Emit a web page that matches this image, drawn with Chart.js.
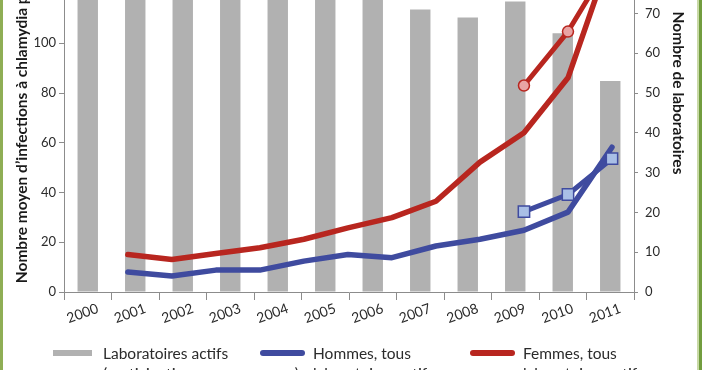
<!DOCTYPE html>
<html lang="fr">
<head>
<meta charset="utf-8">
<script src="https://cdn.jsdelivr.net/npm/chart.js@4.4.1/dist/chart.umd.min.js"></script>
<style>
  html, body { margin: 0; padding: 0; background: #fff; }
  #page { position: relative; width: 702px; height: 370px; overflow: hidden; background: #fff;
          font-family: Lato, "Open Sans", sans-serif; color: #2b2b2b; }
  #chart { position: absolute; left: 0; top: -130px; }
  .edge { position: absolute; top: 0; height: 370px; }
  .legend { position: absolute; top: 343px; font-size: 15.5px; line-height: 20px; white-space: nowrap; }
  .swatch { position: absolute; top: 350px; height: 6px; }
</style>
</head>
<body>
<div id="page">
  <canvas id="chart" width="702" height="482"></canvas>

  <!-- legend (cut by the bottom of the picture, like the original) -->
  <div class="swatch" style="left:53px;width:39px;background:#b1b1b1;"></div>
  <div class="legend" style="left:103px;">Laboratoires actifs<br>(participation au programme)</div>
  <div class="swatch" style="left:260px;width:45px;background:#3f4b9f;border-radius:3px;"></div>
  <div class="legend" style="left:313px;">Hommes, tous<br>laboratoires actifs</div>
  <div class="swatch" style="left:470px;width:45px;background:#b8261f;border-radius:3px;"></div>
  <div class="legend" style="left:523px;">Femmes, tous<br>laboratoires actifs</div>

  <div class="edge" style="left:0;width:3px;background:#8fae55;"></div>
  <div class="edge" style="left:697px;width:2px;background:#c8d9a6;"></div>
  <div class="edge" style="left:699px;width:3px;background:#729d3f;"></div>
</div>

<script>
/** Données **/
const years = ['2000', '2001', '2002', '2003', '2004', '2005',
               '2006', '2007', '2008', '2009', '2010', '2011'];
// nombre de laboratoires actifs (axe de droite)
const labsActifs = [84, 83, 82, 80, 79, 78, 76, 71, 69, 73, 65, 53];
// nombre moyen d'infections, tous laboratoires actifs (axe de gauche)
const hommesTous = [8.0, 6.4, 8.8, 8.8, 12.4, 15.1, 13.8, 18.5, 21.2, 24.8, 32.1, 58.2];
const femmesTous = [15.1, 13.1, 15.5, 17.8, 21.2, 25.8, 29.9, 36.5, 52.2, 64.0, 86.1, 137];
// laboratoires participant depuis 2009
const anneesPart = ['2009', '2010', '2011'];
const hommesPart = [32.3, 39.2, 53.6];
const femmesPart = [83.0, 104.7, 134];
// axes
const leftMax = 160, leftStep = 20;
const rightMax = 100, rightStep = 10;

const BLUE = '#3f4b9f', RED = '#b8261f', GREY = '#b1b1b1', AXIS = '#8c8c8c', TEXT = '#2b2b2b';

function pts(xs, ys) {
  return ys.map(function(v, i) { return { x: Number(xs[i]), y: v }; });
}

Chart.defaults.font.family = 'Lato, "Open Sans", sans-serif';
Chart.defaults.color = TEXT;

const ctx = document.getElementById('chart').getContext('2d');
const chart = new Chart(ctx, {
  type: 'bar',
  data: {
    labels: years,
    datasets: [
      { type: 'line', label: 'Femmes, participants', data: pts(anneesPart, femmesPart),
        xAxisID: 'xl', yAxisID: 'y', borderColor: RED, borderWidth: 5,
        borderJoinStyle: 'round', borderCapStyle: 'round',
        pointStyle: 'circle', pointRadius: 5.5, pointBorderWidth: 1.5,
        pointBackgroundColor: '#e9a3a3', pointBorderColor: RED, order: 1 },
      { type: 'line', label: 'Hommes, participants', data: pts(anneesPart, hommesPart),
        xAxisID: 'xl', yAxisID: 'y', borderColor: BLUE, borderWidth: 5,
        borderJoinStyle: 'round', borderCapStyle: 'round',
        pointStyle: 'rect', pointRadius: 8, pointBorderWidth: 1.5,
        pointBackgroundColor: '#a9bfe6', pointBorderColor: BLUE, order: 1 },
      { type: 'line', label: 'Femmes, tous laboratoires actifs', data: pts(years, femmesTous),
        xAxisID: 'xl', yAxisID: 'y', borderColor: RED, borderWidth: 5.5,
        borderJoinStyle: 'round', borderCapStyle: 'round', pointRadius: 0, order: 2 },
      { type: 'line', label: 'Hommes, tous laboratoires actifs', data: pts(years, hommesTous),
        xAxisID: 'xl', yAxisID: 'y', borderColor: BLUE, borderWidth: 5.5,
        borderJoinStyle: 'round', borderCapStyle: 'round', pointRadius: 0, order: 2 },
      { type: 'bar', label: 'Laboratoires actifs', data: labsActifs,
        xAxisID: 'x', yAxisID: 'y2', backgroundColor: GREY, grouped: false,
        categoryPercentage: 1, barPercentage: 0.43, order: 10 }
    ]
  },
  options: {
    responsive: false,
    animation: false,
    layout: { padding: { top: 24, left: 0, right: 0, bottom: 0 } },
    plugins: { legend: { display: false }, tooltip: { enabled: false } },
    scales: {
      x: {
        type: 'category', position: 'bottom', offset: true,
        grid: { drawOnChartArea: false, drawTicks: true, tickLength: 8, color: AXIS, offset: true },
        border: { color: AXIS },
        ticks: { minRotation: 20, maxRotation: 20, labelOffset: 10, padding: 0,
                 font: { size: 14 }, color: TEXT },
        afterFit: function(s) { s.height = 60; }
      },
      xl: { type: 'linear', display: false, offset: false, min: 1998.55, max: 2011.5,
            grid: { offset: false } },
      y: {
        position: 'left', min: 0, max: leftMax,
        grid: { drawOnChartArea: false, tickLength: 5, color: AXIS },
        border: { color: AXIS },
        ticks: { stepSize: leftStep, padding: 3, font: { size: 13 }, color: TEXT },
        title: { display: true, text: 'Nombre moyen d’infections à chlamydia par laboratoire',
                 font: { size: 15.5, weight: 'bold' }, color: '#1a1a1a', padding: { top: 13, bottom: 0 } },
        afterFit: function(s) { s.width = 64; }
      },
      y2: {
        position: 'right', min: 0, max: rightMax,
        grid: { drawOnChartArea: false, tickLength: 4, color: AXIS },
        border: { color: AXIS },
        ticks: { stepSize: rightStep, padding: 7, font: { size: 13 }, color: TEXT },
        title: { display: true, text: 'Nombre de laboratoires',
                 font: { size: 15.5, weight: 'bold' }, color: '#1a1a1a', padding: { top: 14.5, bottom: 0 } },
        afterFit: function(s) { s.width = 68; }
      }
    }
  }
});
</script>
</body>
</html>
